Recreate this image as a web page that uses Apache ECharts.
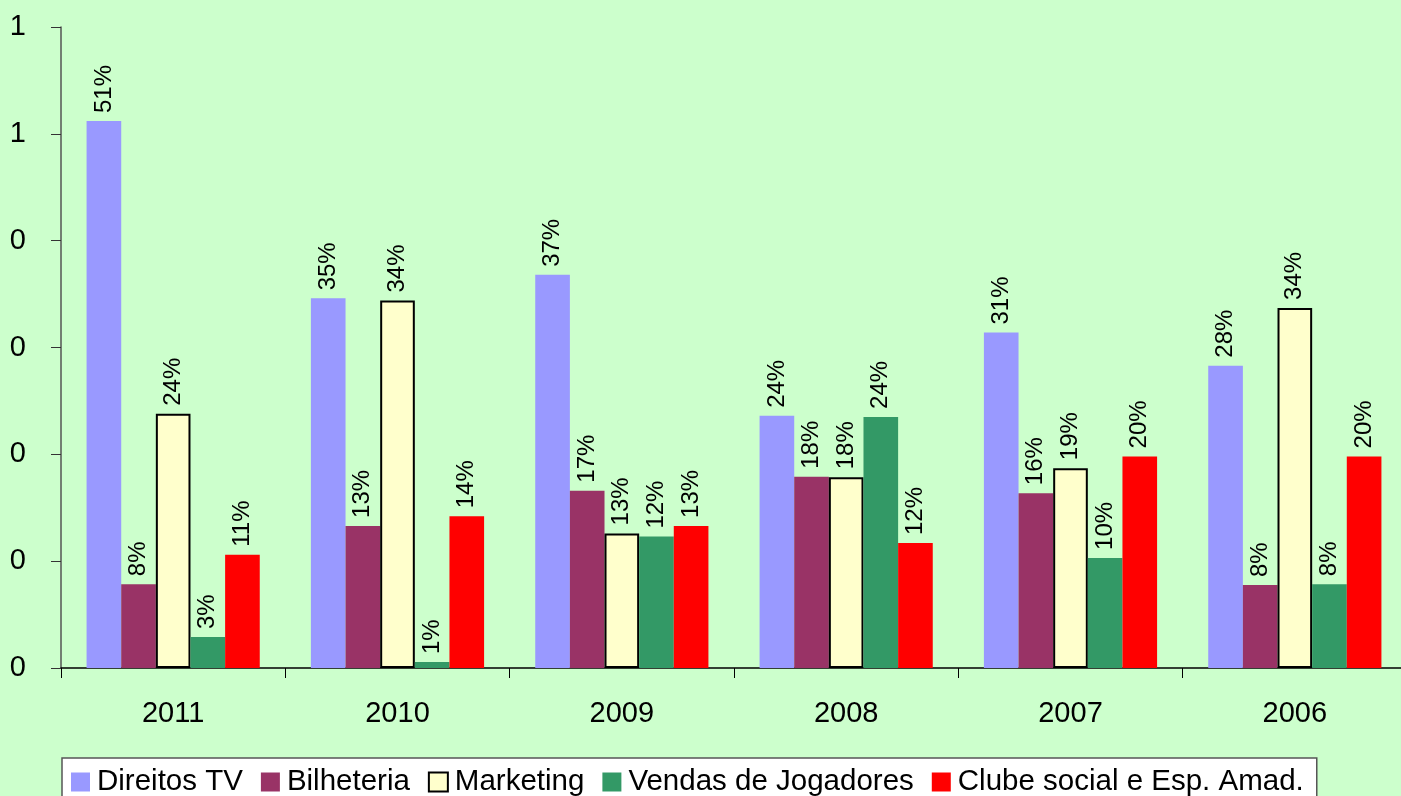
<!DOCTYPE html>
<html>
<head>
<meta charset="utf-8">
<script src="https://cdn.jsdelivr.net/npm/echarts@6/dist/echarts.min.js"></script>
<style>
  html, body { margin: 0; padding: 0; background: #ccffcc; }
  #chart { width: 1401px; height: 796px; }
</style>
</head>
<body>
<div id="chart"></div>
<script>
const years = ["2011", "2010", "2009", "2008", "2007", "2006"];
const direitosTV = [0.512, 0.346, 0.368, 0.236, 0.314, 0.283];
const bilheteria = [0.0785, 0.133, 0.166, 0.179, 0.1636, 0.0776];
const marketing = [0.238, 0.344, 0.126, 0.1785, 0.187, 0.337];
const vendasJogadores = [0.029, 0.0056, 0.123, 0.235, 0.103, 0.0785];
const clubeSocial = [0.106, 0.142, 0.133, 0.117, 0.198, 0.198];
// Excel formatted the axis with 0 decimals, so 0.1..0.4 read "0" and 0.5, 0.6 read "1"
const yTickLabels = ["0", "0", "0", "0", "0", "1", "1"];

const font = '"Liberation Sans", Arial, Helvetica, sans-serif';

function barSeries(name, data, color, border) {
  return {
    name,
    type: "bar",
    data,
    barGap: "0%",
    barCategoryGap: "22.8%",
    itemStyle: border
      ? { color, borderColor: "#000", borderWidth: 2 }
      : { color },
    label: {
      show: true,
      position: "top",
      rotate: 90,
      align: "left",
      verticalAlign: "middle",
      distance: 8,
      color: "#000",
      fontFamily: font,
      fontSize: 24,
      formatter: (p) => Math.round(p.value * 100) + "%",
    },
  };
}

const chart = echarts.init(document.getElementById("chart"));
chart.setOption({
  backgroundColor: "#ccffcc",
  animation: false,
  textStyle: { fontFamily: font },
  // the plot runs a few pixels past the right edge of the picture
  grid: { left: 61, width: 1346, top: 27, height: 641, outerBoundsMode: "none" },
  xAxis: {
    type: "category",
    data: years,
    axisLine: { lineStyle: { color: "#000", width: 1.5 } },
    axisTick: { show: true, interval: 0, length: 10, lineStyle: { color: "#000" } },
    axisLabel: { color: "#000", fontSize: 29, fontFamily: font, margin: 31 },
  },
  yAxis: {
    type: "value",
    min: 0,
    max: 0.6,
    interval: 0.1,
    axisLine: { show: true, lineStyle: { color: "#555", width: 1.5 } },
    axisTick: { show: true, length: 10, lineStyle: { color: "#333" } },
    splitLine: { show: false },
    axisLabel: {
      color: "#000",
      fontSize: 29,
      fontFamily: font,
      margin: 35,
      formatter: (v) => yTickLabels[Math.round(v * 10)],
    },
  },
  legend: {
    left: 62,
    top: 758,
    padding: [9, 13, 10, 9],
    backgroundColor: "#fff",
    borderColor: "#555",
    borderWidth: 1.5,
    borderRadius: 0,
    itemWidth: 19,
    itemHeight: 19,
    itemGap: 18,
    icon: "rect",
    textStyle: { color: "#000", fontSize: 29.5, fontFamily: font, lineHeight: 28, padding: [0, 0, 0, 2] },
  },
  series: [
    barSeries("Direitos TV", direitosTV, "#9999ff"),
    barSeries("Bilheteria", bilheteria, "#993366"),
    barSeries("Marketing", marketing, "#ffffcc", true),
    barSeries("Vendas de Jogadores", vendasJogadores, "#339966"),
    barSeries("Clube social e Esp. Amad.", clubeSocial, "#ff0000"),
  ],
});
</script>
</body>
</html>
